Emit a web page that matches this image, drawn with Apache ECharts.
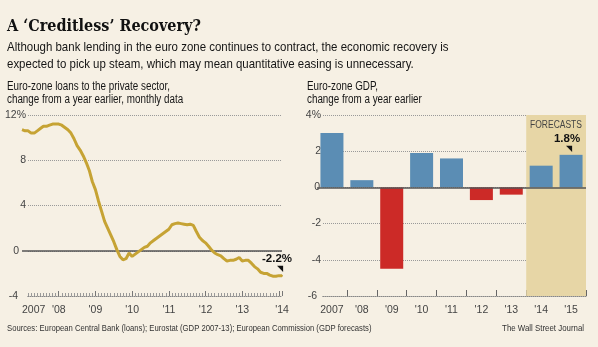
<!DOCTYPE html>
<html><head><meta charset="utf-8">
<script src="https://cdn.jsdelivr.net/npm/echarts@6/dist/echarts.min.js"></script>
<style>html,body{margin:0;padding:0;background:#f6f0e4}#c{width:598px;height:347px}</style>
</head><body><div id="c"></div>
<script>
// ---- data ----
const loanStartYear = 2007; // monthly data from Jan 2007
const loans = [10.7,10.6,10.6,10.4,10.4,10.6,10.8,11.0,11.0,11.1,
  11.2,11.2,11.2,11.1,10.9,10.7,10.4,9.9,9.3,8.9,
  8.4,7.8,7.1,6.1,5.4,4.4,3.5,2.6,2.0,1.4,
  0.8,0.1,-0.5,-0.8,-0.7,-0.2,-0.5,-0.3,-0.1,0.1,
  0.3,0.4,0.7,0.9,1.1,1.3,1.5,1.7,1.9,2.3,
  2.4,2.45,2.4,2.35,2.3,2.35,2.25,1.7,1.2,0.9,
  0.7,0.4,0.05,-0.2,-0.35,-0.45,-0.7,-0.9,-0.85,-0.85,
  -0.75,-0.6,-0.9,-0.85,-0.85,-1.1,-1.4,-1.6,-1.9,-2.0,
  -2.0,-2.15,-2.25,-2.25,-2.2,-2.2];
const loanYears = [2007,2008,2009,2010,2011,2012,2013,2014];
const loanTicks = [-4,0,4,8,12];
const gdpCats = ['2007',"'08","'09","'10","'11","'12","'13","'14","'15"];
const gdp = [3.0,0.4,-4.5,1.9,1.6,-0.7,-0.4,1.2,1.8];
const gdpTicks = [-6,-4,-2,0,2,4];
const forecastFrom = "'14";

const titleText = 'A ‘Creditless’ Recovery?';
const subText = 'Although bank lending in the euro zone continues to contract, the economic recovery is\nexpected to pick up steam, which may mean quantitative easing is unnecessary.';
const leftLabel = 'Euro-zone loans to the private sector,\nchange from a year earlier, monthly data';
const rightLabel = 'Euro-zone GDP,\nchange from a year earlier';
const forecastText = 'FORECASTS';
const sourceText = 'Sources: European Central Bank (loans); Eurostat (GDP 2007-13); European Commission (GDP forecasts)';
const creditText = 'The Wall Street Journal';

// ---- style ----
const BG = '#f6f0e4';
const SANS = "'Liberation Sans','Arial',sans-serif";
const AX = "'Liberation Sans','Roboto',sans-serif";
const NX = 0.82; // narrow scaling

const loanPts = loans.map((v,i)=>[loanStartYear + i/12, v]);
const lastIdx = loanPts.length-1;
const loanData = loanPts.map((p,i)=> i===lastIdx ? {value:p, symbol:'circle', symbolSize:2,
  label:{show:true, position:'top', distance:2, offset:[-5,0],
  formatter:(pr)=>'{v|'+pr.value[1].toFixed(1)+'%}\n{t|◥}',
  rich:{v:{fontFamily:SANS,fontWeight:'bold',fontSize:11.5,color:'#111',lineHeight:11},
        t:{fontSize:8,color:'#111',lineHeight:8,padding:[0,0,0,6]}}}} : {value:p, symbol:'none'});
const gdpData = gdp.map((v,i)=> i===gdp.length-1 ? {value:v, label:{show:true, position:'top', distance:3, offset:[-4,0],
  formatter:(pr)=>'{v|'+pr.value.toFixed(1)+'%}\n{t|◥}',
  rich:{v:{fontFamily:SANS,fontWeight:'bold',fontSize:11.5,color:'#111',lineHeight:11},
        t:{fontSize:8,color:'#111',lineHeight:7,padding:[0,0,0,4]}}}} : v);

function yLabel(min,max,zeroPad,minPad){
  const base = {fontFamily:AX,fontSize:10.5,color:'#444'};
  return {
    show:true, align:'right', margin:-5, ...base,
    formatter:(v)=>{
      if(v===max) return '{a|'+v+'%}';
      if(v===0) return '{z|0}';
      if(v===min) return '{m|'+v+'}';
      return '{a|'+v+'}';
    },
    rich:{a:{backgroundColor:BG,padding:[1,1,1,2],...base},
          z:{backgroundColor:BG,padding:[1,zeroPad,1,2],...base},
          m:{backgroundColor:BG,padding:[1,minPad,1,2],...base}}
  };
}
function txt(text,x,y,size,lh,fill,align,sx){
  return {type:'text', x:x, y:y, z:100, scaleX:sx||NX, silent:true,
    style:{text:text, fontFamily:SANS, fontSize:size, lineHeight:lh, fill:fill||'#151515', align:align||'left', verticalAlign:'top'}};
}

const chart = echarts.init(document.getElementById('c'), null, {renderer:'canvas'});
const fIdx = gdpCats.indexOf(forecastFrom);
chart.setOption({
  backgroundColor: BG,
  animation:false,
  graphic:[
    {type:'text', x:7, y:19, z:100, silent:true, style:{text:titleText, fontFamily:"'DejaVu Serif Condensed','DejaVu Serif',serif", fontWeight:'bold', fontSize:16, fill:'#111', verticalAlign:'top'}},
    txt(subText,7,39,13.5,17,'#151515','left',0.85),
    txt(leftLabel,7,80,12,13),
    txt(rightLabel,307,80,12,13),
    txt(forecastText,556,120,10,11,'#444','center',0.85),
    txt(sourceText,7,322,9.4,12,'#333','left'),
    txt(creditText,584,322,9.6,12,'#333','right')
  ],
  grid:[
    {left:19, right:316, top:115, bottom:51},
    {left:317, right:12, top:115, bottom:51}
  ],
  xAxis:[
    {gridIndex:0, type:'value', min:loanPts[0][0], max:loanPts[lastIdx][0], interval:1,
     axisLine:{show:true,onZero:false,lineStyle:{color:'#888',type:'dotted'}},
     axisTick:{show:true,inside:true,length:5,lineStyle:{color:'#777'}},
     minorTick:{show:true,splitNumber:12,length:3,lineStyle:{color:'#999'}},
     splitLine:{show:false},
     axisLabel:{margin:9,fontFamily:AX,fontSize:10.5,color:'#444',showMaxLabel:true,hideOverlap:false,alignMinLabel:'left',
       formatter:(v)=>{const y=Math.round(v); if(!loanYears.includes(y)) return ''; return y===loanYears[0]?String(y):"'"+String(y).slice(2);}}},
    {gridIndex:1, type:'category', data:gdpCats,
     axisLine:{show:true,onZero:false,lineStyle:{color:'#888',type:'dotted'}},
     axisTick:{show:true,inside:true,length:6,lineStyle:{color:'#666'}},
     axisLabel:{margin:9,interval:0,fontFamily:AX,fontSize:10.5,color:'#444'}},
    {gridIndex:1, type:'value', min:0, max:gdpCats.length, show:false}
  ],
  yAxis:[
    {gridIndex:0, type:'value', min:loanTicks[0], max:loanTicks[loanTicks.length-1], interval:4,
     axisLine:{show:false}, axisTick:{show:false},
     splitLine:{show:true,lineStyle:{color:'#999',type:'dotted',width:1}},
     axisLabel:yLabel(loanTicks[0],loanTicks[loanTicks.length-1],8,9)},
    {gridIndex:1, type:'value', min:gdpTicks[0], max:gdpTicks[gdpTicks.length-1], interval:2,
     axisLine:{show:false}, axisTick:{show:false},
     splitLine:{show:true,lineStyle:{color:'#999',type:'dotted',width:1}},
     axisLabel:yLabel(gdpTicks[0],gdpTicks[gdpTicks.length-1],2,5)}
  ],
  series:[
    {type:'line', name:'shade', xAxisIndex:2, yAxisIndex:1, data:[[fIdx,0],[gdpCats.length,0]],
     symbol:'none', lineStyle:{opacity:0}, silent:true, z:0,
     markArea:{silent:true, itemStyle:{color:'#e7d6a6'}, label:{show:false},
       data:[[{xAxis:fIdx},{xAxis:gdpCats.length}]]}},
    {type:'line', name:'loans', xAxisIndex:0, yAxisIndex:0, data:loanData, symbol:'circle', showSymbol:true,
     itemStyle:{color:'#c6a334'}, lineStyle:{color:'#c6a334',width:3}, z:3,
     markLine:{silent:true, symbol:'none', label:{show:false}, lineStyle:{color:'#555',type:'solid',width:1.5}, data:[{yAxis:0}], z:2}},
    {type:'bar', name:'gdp', xAxisIndex:1, yAxisIndex:1, data:gdpData, barWidth:23, z:3,
     itemStyle:{color:(p)=> (Array.isArray(p.value)?p.value[1]:p.value) >= 0 ? '#5b8db4' : '#cc2a27'},
     markLine:{silent:true, symbol:'none', label:{show:false}, lineStyle:{color:'#555',type:'solid',width:1.5}, data:[{yAxis:0}], z:4}}
  ]
});
</script></body></html>
